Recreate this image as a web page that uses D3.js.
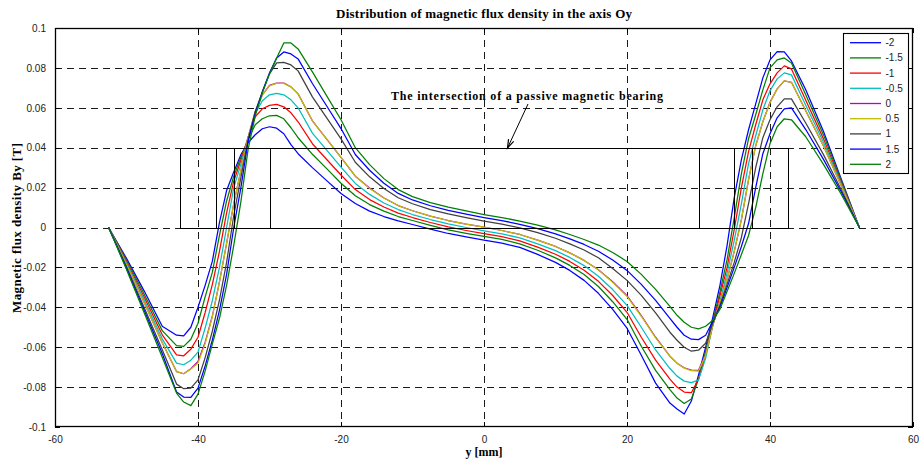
<!DOCTYPE html>
<html><head><meta charset="utf-8">
<script src="https://cdn.jsdelivr.net/npm/d3@7"></script>
<style>body{margin:0;background:#fff}</style>
</head><body>
<svg id="c" width="920" height="464"></svg>
<script>
// y position along the axis Oy [mm]
const positions = [-52.5,-50,-47.5,-45,-43,-42,-41,-40,-39,-38,-37,-36,-35,-34,-33,-32,-31,-30,-29,-28,-27,-26,-24,-22,-20,-18,-16,-14,-12,-10,-7.5,-5,-2.5,0,2.5,5,7.5,10,12,14,16,18,20,22,24,26,27,28,29,30,31,32,33,34,35,36,37,38,39,40,41,42,43,45,47.5,50,52.5];

const By_m2 = [0,-0.0155,-0.032,-0.0495,-0.054,-0.0543,-0.050,-0.040,-0.029,-0.017,0.0025,0.0185,0.0278,0.0365,0.0425,0.0465,0.0495,0.0505,0.0498,0.047,0.0415,0.037,0.030,0.0235,0.017,0.012,0.0082,0.0055,0.0033,0.0015,-0.0008,-0.003,-0.0047,-0.0063,-0.0078,-0.010,-0.0135,-0.0175,-0.0215,-0.0265,-0.033,-0.041,-0.0505,-0.064,-0.078,-0.088,-0.091,-0.0935,-0.087,-0.074,-0.060,-0.045,-0.029,-0.009,0.015,0.034,0.049,0.062,0.075,0.084,0.0882,0.088,0.0835,0.069,0.048,0.024,0];
const By_m15 = [0,-0.0163,-0.0336,-0.0517,-0.0592,-0.0596,-0.056,-0.048,-0.0348,-0.0225,-0.004,0.0133,0.0257,0.0352,0.044,0.0515,0.0545,0.056,0.0562,0.0545,0.050,0.045,0.0367,0.0295,0.0222,0.0159,0.0115,0.0082,0.0055,0.0035,0.0011,-0.0012,-0.0029,-0.0045,-0.006,-0.0082,-0.0114,-0.0152,-0.019,-0.0236,-0.0296,-0.0372,-0.046,-0.0595,-0.0716,-0.0813,-0.0855,-0.0882,-0.086,-0.076,-0.062,-0.047,-0.0323,-0.016,0.005,0.027,0.0445,0.0565,0.069,0.080,0.084,0.085,0.0825,0.0666,0.0463,0.0232,0];
const By_m1 = [0,-0.017,-0.0351,-0.0538,-0.0638,-0.0643,-0.061,-0.055,-0.0426,-0.0286,-0.012,0.0073,0.0232,0.0337,0.045,0.0555,0.0595,0.0612,0.0617,0.0605,0.0575,0.053,0.042,0.0341,0.0263,0.019,0.014,0.0103,0.0072,0.005,0.0025,0.0003,-0.0015,-0.0031,-0.0046,-0.0067,-0.0098,-0.0134,-0.017,-0.0214,-0.027,-0.0341,-0.0425,-0.055,-0.0665,-0.076,-0.080,-0.0825,-0.0828,-0.076,-0.064,-0.048,-0.0343,-0.020,-0.001,0.020,0.038,0.0515,0.064,0.072,0.0775,0.081,0.0795,0.0638,0.0443,0.0223,0];
const By_m05 = [0,-0.0177,-0.0365,-0.0558,-0.068,-0.0688,-0.0665,-0.0625,-0.0504,-0.0367,-0.020,0.0,0.020,0.0318,0.045,0.057,0.0635,0.0665,0.0672,0.0665,0.064,0.060,0.0473,0.0388,0.0303,0.0221,0.0166,0.0123,0.009,0.0065,0.004,0.0018,0.0,-0.0017,-0.0032,-0.0052,-0.0082,-0.0116,-0.015,-0.0191,-0.0244,-0.0311,-0.039,-0.050,-0.0614,-0.0707,-0.0745,-0.077,-0.0778,-0.0765,-0.0655,-0.049,-0.0371,-0.0227,-0.0065,0.012,0.032,0.046,0.059,0.0685,0.0745,0.0775,0.0765,0.0613,0.0426,0.0216,0];
const By_0 = [0,-0.0185,-0.0379,-0.0578,-0.0722,-0.0733,-0.0708,-0.0672,-0.0575,-0.0445,-0.0273,-0.008,0.012,0.0286,0.045,0.058,0.0665,0.0712,0.0724,0.0724,0.0705,0.067,0.0535,0.0443,0.0351,0.0257,0.0198,0.0148,0.011,0.0084,0.0057,0.0035,0.0017,0.0002,-0.0015,-0.0035,-0.0063,-0.0095,-0.0127,-0.0165,-0.0212,-0.0272,-0.0342,-0.0442,-0.055,-0.0645,-0.068,-0.0703,-0.0715,-0.0716,-0.0635,-0.049,-0.0377,-0.0259,-0.012,0.004,0.024,0.041,0.053,0.0628,0.0695,0.0735,0.0728,0.0585,0.0407,0.0207,0];
const By_05 = [0,-0.0185,-0.0379,-0.0578,-0.0722,-0.0733,-0.071,-0.068,-0.0582,-0.0448,-0.0273,-0.008,0.012,0.0286,0.045,0.058,0.0665,0.071,0.0723,0.0722,0.0705,0.067,0.0535,0.0443,0.0351,0.0257,0.0196,0.0148,0.011,0.0084,0.0057,0.0035,0.0017,0.0002,-0.0015,-0.0035,-0.0063,-0.0095,-0.0127,-0.0165,-0.0212,-0.0275,-0.0345,-0.0445,-0.0553,-0.0645,-0.068,-0.0705,-0.0718,-0.072,-0.064,-0.049,-0.0377,-0.0259,-0.012,0.004,0.024,0.041,0.053,0.0625,0.0695,0.0735,0.0728,0.0585,0.0407,0.0207,0];
const By_1 = [0,-0.0197,-0.0404,-0.0613,-0.0785,-0.0808,-0.0805,-0.0764,-0.0652,-0.052,-0.0364,-0.0175,0.006,0.025,0.044,0.058,0.068,0.077,0.0825,0.0828,0.0815,0.0785,0.0655,0.055,0.0444,0.0327,0.0254,0.0196,0.0149,0.0119,0.009,0.0068,0.0049,0.0032,0.0017,-0.0002,-0.0026,-0.0054,-0.0082,-0.0113,-0.0152,-0.0205,-0.0265,-0.034,-0.0428,-0.0525,-0.0565,-0.060,-0.062,-0.0615,-0.058,-0.048,-0.039,-0.0284,-0.0175,-0.005,0.012,0.030,0.045,0.054,0.0605,0.0645,0.0645,0.0524,0.0364,0.0187,0];
const By_15 = [0,-0.0204,-0.0417,-0.0632,-0.0825,-0.085,-0.0852,-0.0805,-0.0694,-0.0565,-0.0415,-0.0235,0.0,0.020,0.043,0.057,0.068,0.0775,0.085,0.088,0.087,0.0845,0.0722,0.0609,0.0496,0.0366,0.0287,0.0222,0.0171,0.0138,0.0109,0.0086,0.0067,0.005,0.0035,0.0016,-0.0006,-0.0032,-0.0057,-0.0085,-0.0119,-0.0163,-0.0215,-0.0285,-0.0365,-0.0455,-0.050,-0.054,-0.056,-0.0562,-0.054,-0.047,-0.040,-0.030,-0.020,-0.0095,0.002,0.020,0.037,0.047,0.055,0.0595,0.060,0.0491,0.034,0.0177,0];
const By_2 = [0,-0.021,-0.043,-0.065,-0.083,-0.0875,-0.0893,-0.0835,-0.072,-0.0585,-0.0455,-0.029,-0.009,0.013,0.039,0.056,0.0675,0.077,0.085,0.0925,0.0925,0.0895,0.078,0.066,0.054,0.040,0.0315,0.0245,0.019,0.0155,0.0125,0.0102,0.0083,0.0065,0.005,0.0032,0.0012,-0.0012,-0.0035,-0.006,-0.0088,-0.0125,-0.017,-0.0235,-0.031,-0.0395,-0.044,-0.0475,-0.050,-0.0508,-0.0495,-0.0465,-0.041,-0.032,-0.023,-0.0135,-0.004,0.010,0.027,0.042,0.0505,0.0545,0.054,0.0455,0.0315,0.0165,0];

const seriesValues = [By_m2, By_m15, By_m1, By_m05, By_0, By_05, By_1, By_15, By_2];
const seriesLabels = ["-2","-1.5","-1","-0.5","0","0.5","1","1.5","2"];
const seriesColors = ["#0000ff","#008000","#ff0000","#00bfbf","#bf00bf","#bfbf00","#404040","#0000ff","#008000"];

const xTicks = [-60,-40,-20,0,20,40,60];
const xTickLabels = ["-60","-40","-20","0","20","40","60"];
const yTicks = [-0.1,-0.08,-0.06,-0.04,-0.02,0,0.02,0.04,0.06,0.08,0.1];
const yTickLabels = ["-0.1","-0.08","-0.06","-0.04","-0.02","0","0.02","0.04","0.06","0.08","0.1"];

// cross-section of the passive magnetic bearing
const bearingEdges = [-42.5,-37.5,-35,-30,30,35,37.5,42.5];
const bearingTop = 0.04, bearingBottom = 0;
const annotationText = "The intersection of a passive magnetic bearing";

const titleText = "Distribution of magnetic flux density in the axis Oy";
const xLabelText = "y [mm]";
const yLabelText = "Magnetic flux density By [T]";

const W = 920, H = 464;
const L = 55, R = 913, T = 28, B = 427;
const svg = d3.select("#c");
svg.append("rect").attr("width", W).attr("height", H).attr("fill", "#fff");

const x = d3.scaleLinear().domain([-60, 60]).range([L, R]);
const y = d3.scaleLinear().domain([-0.1, 0.1]).range([B, T]);
const crisp = v => Math.round(v) + 0.5;

// grid
const grid = svg.append("g").attr("stroke", "#1a1a1a").attr("stroke-width", 1)
  .attr("stroke-dasharray", "7,5").attr("shape-rendering", "crispEdges");
grid.selectAll("line.v").data(xTicks.slice(1, -1)).join("line")
  .attr("x1", d => crisp(x(d))).attr("x2", d => crisp(x(d))).attr("y1", T).attr("y2", B);
grid.selectAll("line.h").data(yTicks.slice(1, -1)).join("line")
  .attr("y1", d => crisp(y(d))).attr("y2", d => crisp(y(d))).attr("x1", L).attr("x2", R);

// axes
const font = "'Liberation Sans', Arial, sans-serif";
const ax = svg.append("g").attr("transform", `translate(0,${B})`)
  .call(d3.axisBottom(x).tickValues(xTicks).tickFormat((d, i) => xTickLabels[i]).tickSizeInner(-5).tickSizeOuter(0).tickPadding(9));
const ay = svg.append("g").attr("transform", `translate(${L},0)`)
  .call(d3.axisLeft(y).tickValues(yTicks).tickFormat((d, i) => yTickLabels[i]).tickSizeInner(-5).tickSizeOuter(0).tickPadding(9));
const axt = svg.append("g").attr("transform", `translate(0,${T})`)
  .call(d3.axisTop(x).tickValues(xTicks).tickFormat("").tickSizeInner(-5).tickSizeOuter(0));
const ayr = svg.append("g").attr("transform", `translate(${R},0)`)
  .call(d3.axisRight(y).tickValues(yTicks).tickFormat("").tickSizeInner(-5).tickSizeOuter(0));
[ax, ay, axt, ayr].forEach(g => {
  g.select(".domain").remove();
  g.selectAll("line").attr("stroke", "#000").attr("shape-rendering", "crispEdges");
  g.selectAll("text").attr("font-family", font).attr("font-size", 10).attr("fill", "#222");
});

// curves
const line = d3.line().x(d => x(d[0])).y(d => y(d[1]));
svg.append("g").selectAll("path").data(seriesValues).join("path")
  .attr("d", vals => line(positions.map((p, i) => [p, vals[i]])))
  .attr("fill", "none")
  .attr("stroke", (d, i) => seriesColors[i])
  .attr("stroke-width", 1.25)
  .attr("stroke-linejoin", "round");

// bearing cross-section
const bg = svg.append("g").attr("stroke", "#000").attr("stroke-width", 1.2).attr("fill", "none")
  .attr("shape-rendering", "crispEdges");
const xMin = d3.min(bearingEdges), xMax = d3.max(bearingEdges);
bg.append("line").attr("x1", crisp(x(xMin))).attr("x2", crisp(x(xMax))).attr("y1", crisp(y(bearingTop))).attr("y2", crisp(y(bearingTop)));
bg.append("line").attr("x1", crisp(x(xMin))).attr("x2", crisp(x(xMax))).attr("y1", crisp(y(bearingBottom))).attr("y2", crisp(y(bearingBottom)));
bg.selectAll("line.e").data(bearingEdges).join("line")
  .attr("x1", d => crisp(x(d))).attr("x2", d => crisp(x(d))).attr("y1", crisp(y(bearingTop))).attr("y2", crisp(y(bearingBottom)));

// box
svg.append("rect").attr("x", L + 0.5).attr("y", T + 0.5).attr("width", R - L - 1).attr("height", B - T - 1)
  .attr("fill", "none").attr("stroke", "#000").attr("stroke-width", 1.3);

// annotation with arrow
const serif = "'Liberation Serif', 'Times New Roman', serif";
svg.append("text").attr("x", 391).attr("y", 100).attr("font-family", serif).attr("font-weight", "bold")
  .attr("font-size", 12).attr("textLength", 272).attr("lengthAdjust", "spacing").attr("fill", "#000").text(annotationText);
const ax0 = 528, ay0 = 104, ax1 = 507.5, ay1 = crisp(y(bearingTop)) - 0.5;
const ang = Math.atan2(ay1 - ay0, ax1 - ax0);
const hl = 9, hw = 0.32;
svg.append("line").attr("x1", ax0).attr("y1", ay0).attr("x2", ax1).attr("y2", ay1).attr("stroke", "#000").attr("stroke-width", 1);
svg.append("path").attr("d", `M${ax1 - hl * Math.cos(ang - hw)},${ay1 - hl * Math.sin(ang - hw)} L${ax1},${ay1} L${ax1 - hl * Math.cos(ang + hw)},${ay1 - hl * Math.sin(ang + hw)}`)
  .attr("fill", "none").attr("stroke", "#000").attr("stroke-width", 1.2);

// legend
const lg = svg.append("g");
lg.append("rect").attr("x", 843.5).attr("y", 33.5).attr("width", 65).attr("height", 140)
  .attr("fill", "#fff").attr("stroke", "#000").attr("stroke-width", 1.1);
const li = lg.selectAll("g.item").data(seriesLabels).join("g")
  .attr("transform", (d, i) => `translate(0,${42.7 + i * 15.2})`);
li.append("line").attr("x1", 850).attr("x2", 881).attr("y1", 0).attr("y2", 0)
  .attr("stroke", (d, i) => seriesColors[i]).attr("stroke-width", 1.3);
li.append("text").attr("x", 885.5).attr("y", 0).attr("dy", "0.35em").attr("font-family", font)
  .attr("font-size", 10).attr("fill", "#222").text(d => d);

// titles
svg.append("text").attr("x", 484).attr("y", 18).attr("text-anchor", "middle").attr("font-family", serif)
  .attr("font-weight", "bold").attr("font-size", 13).attr("textLength", 296).attr("lengthAdjust", "spacing").text(titleText);
svg.append("text").attr("x", 484).attr("y", 456).attr("text-anchor", "middle").attr("font-family", serif)
  .attr("font-weight", "bold").attr("font-size", 12).text(xLabelText);
svg.append("text").attr("transform", "translate(21,228) rotate(-90)").attr("text-anchor", "middle").attr("font-family", serif)
  .attr("font-weight", "bold").attr("font-size", 13).attr("textLength", 170).attr("lengthAdjust", "spacing").text(yLabelText);
</script>
</body></html>
